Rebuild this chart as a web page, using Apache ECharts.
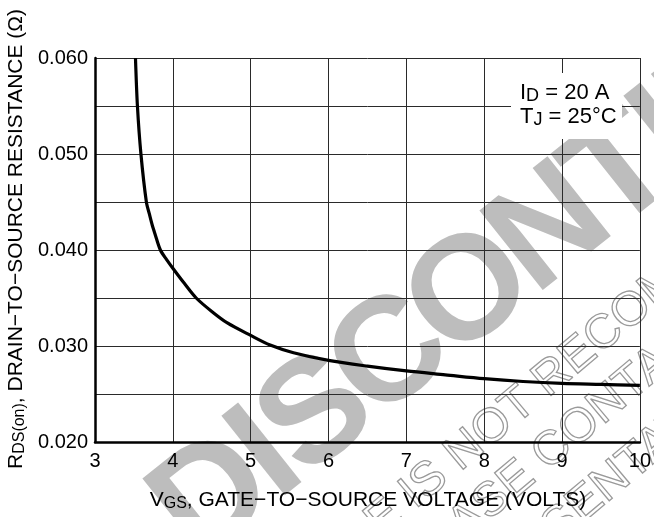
<!DOCTYPE html>
<html><head><meta charset="utf-8">
<script src="https://cdn.jsdelivr.net/npm/echarts@6/dist/echarts.min.js"></script>
<style>html,body{margin:0;padding:0;background:#fff}#c{width:654px;height:517px}</style>
</head><body><div id="c"></div>
<script>
// ---- data ----
const vgs = [3.52, 3.545, 3.59, 3.66, 3.70, 3.735, 3.77, 3.84, 3.92, 4.00, 4.15, 4.30, 4.50, 4.70, 5.00, 5.25, 5.55, 6.00, 6.50, 7.00, 7.50, 8.00, 8.50, 9.00, 9.50, 10.0];
const rds = [0.0600, 0.0550, 0.0500, 0.0450, 0.0437, 0.0426, 0.0417, 0.0400, 0.0390, 0.0381, 0.0365, 0.0350, 0.0336, 0.0324, 0.0311, 0.0301, 0.0293, 0.0285, 0.0279, 0.0274, 0.0270, 0.0266, 0.0263, 0.0261, 0.0260, 0.0259];
const xTickLabels = ['3', '4', '5', '6', '7', '8', '9', '10'];
const yTickLabels = ['0.020', '0.030', '0.040', '0.050', '0.060'];
const watermarkWord = 'DISCONTINUED';
const watermarkLines = ['THIS DEVICE IS NOT RECOMMENDED FOR NEW DESIGN.', 'PLEASE CONTACT YOUR', 'ON SEMICONDUCTOR REPRESENTATIVE'];

const FF = '"Liberation Sans", Arial, Helvetica, sans-serif';
const chart = echarts.init(document.getElementById('c'), null, {renderer: 'canvas'});

function frame(deg) {
  const a = deg * Math.PI / 180;
  return {a: a, p: (t, n) => [Math.cos(a) * t + Math.sin(a) * n, -Math.sin(a) * t + Math.cos(a) * n]};
}
const mctx = document.createElement('canvas').getContext('2d');
function startT(text, idx, font, tc) {
  mctx.font = font;
  return tc - (mctx.measureText(text.slice(0, idx)).width + mctx.measureText(text[idx]).width / 2);
}
const wmGraphics = [];
(function () {
  // big watermark word, placed letter by letter along a rotated baseline
  const fb = frame(38.5);
  const fs = 148, em = 136;
  const adv = {D: .722, I: .278, S: .667, C: .722, O: .778, N: .722, T: .611, U: .722, E: .667};
  let u = 0;
  for (const ch of watermarkWord) {
    const uc = u + adv[ch] / 2;
    u += adv[ch];
    const p = fb.p(-192 + em * uc, 524);
    wmGraphics.push({type: 'text', x: p[0], y: p[1], rotation: fb.a, z: -10, silent: true,
      style: {text: ch, font: 'bold ' + fs + 'px ' + FF, fill: '#bdbdbd', textAlign: 'center', textVerticalAlign: 'middle', align: 'center', verticalAlign: 'middle'}});
  }
  const fo = frame(40);
  const f2 = '48px ' + FF;
  const specs = [[0, 13, 20, 644], [1, 4, 55, 700], [2, 23, 125, 762]];
  specs.forEach(s => {
    const txt = watermarkLines[s[0]];
    const q = fo.p(startT(txt, s[1], f2, s[2]), s[3]);
    wmGraphics.push({type: 'text', x: q[0], y: q[1], rotation: fo.a, z: -9, silent: true,
      style: {text: txt, font: f2, fill: 'rgba(0,0,0,0)', stroke: '#9a9a9a', lineWidth: 1.3, textAlign: 'left', textVerticalAlign: 'middle', align: 'left', verticalAlign: 'middle'}});
  });
})();

const richMain = (fs) => ({fontSize: fs, fontFamily: FF, color: '#000', lineHeight: 24});
const richSub = (fs) => ({fontSize: fs, fontFamily: FF, color: '#000', lineHeight: 10, verticalAlign: 'bottom'});

const option = {
  animation: false,
  backgroundColor: '#fff',
  grid: {left: 95, right: 12, top: 58, bottom: 75, containLabel: false},
  xAxis: {
    type: 'value', min: 3, max: 10, interval: 1,
    axisLine: {show: true, onZero: false, lineStyle: {color: '#000', width: 2.5}},
    axisTick: {show: false},
    axisLabel: {color: '#000', fontSize: 20, fontFamily: FF, margin: 9,
      formatter: v => xTickLabels[Math.round(v - 3)] || ''},
    splitLine: {show: true, lineStyle: {color: '#2a2a2a', width: 1}}
  },
  yAxis: {
    type: 'value', min: 0.020, max: 0.060, interval: 0.005,
    axisLine: {show: true, onZero: false, lineStyle: {color: '#000', width: 2.5}},
    axisTick: {show: false},
    axisLabel: {color: '#000', fontSize: 20, fontFamily: FF, margin: 7,
      formatter: v => { const s = v.toFixed(3); return yTickLabels.indexOf(s) >= 0 ? s : ''; }},
    splitLine: {show: true, lineStyle: {color: '#2a2a2a', width: 1}}
  },
  series: [{
    type: 'line', z: 5,
    data: vgs.map((v, i) => [v, rds[i]]),
    showSymbol: false, smooth: 0.3, clip: true,
    lineStyle: {color: '#000', width: 3.2}
  }],
  graphic: wmGraphics.concat([
    {type: 'rect', z: 50, silent: true, shape: {x: 511, y: 73, width: 111, height: 66}, style: {fill: '#fff'}},
    {type: 'text', z: 51, x: 520, y: 81, silent: true,
      style: {text: '{m|I}{s|D}{m| = 20 A}\n{m|T}{s|J}{m| = 25°C}',
        rich: {m: richMain(22), s: richSub(18)}, textAlign: 'left', textVerticalAlign: 'top', align: 'left', verticalAlign: 'top'}},
    {type: 'text', z: 51, x: 368, y: 500, silent: true,
      style: {text: '{m|V}{s|GS}{m|, GATE−TO−SOURCE VOLTAGE (VOLTS)}',
        rich: {m: richMain(21), s: richSub(16)}, textAlign: 'center', textVerticalAlign: 'middle', align: 'center', verticalAlign: 'middle'}},
    {type: 'text', z: 51, x: 16, y: 239, rotation: Math.PI / 2, silent: true,
      style: {text: '{m|R}{s|DS(on)}{m|, DRAIN−TO−SOURCE RESISTANCE (Ω)}',
        rich: {m: richMain(21), s: richSub(16)}, textAlign: 'center', textVerticalAlign: 'middle', align: 'center', verticalAlign: 'middle'}}
  ])
};
chart.setOption(option);
</script>
</body></html>
